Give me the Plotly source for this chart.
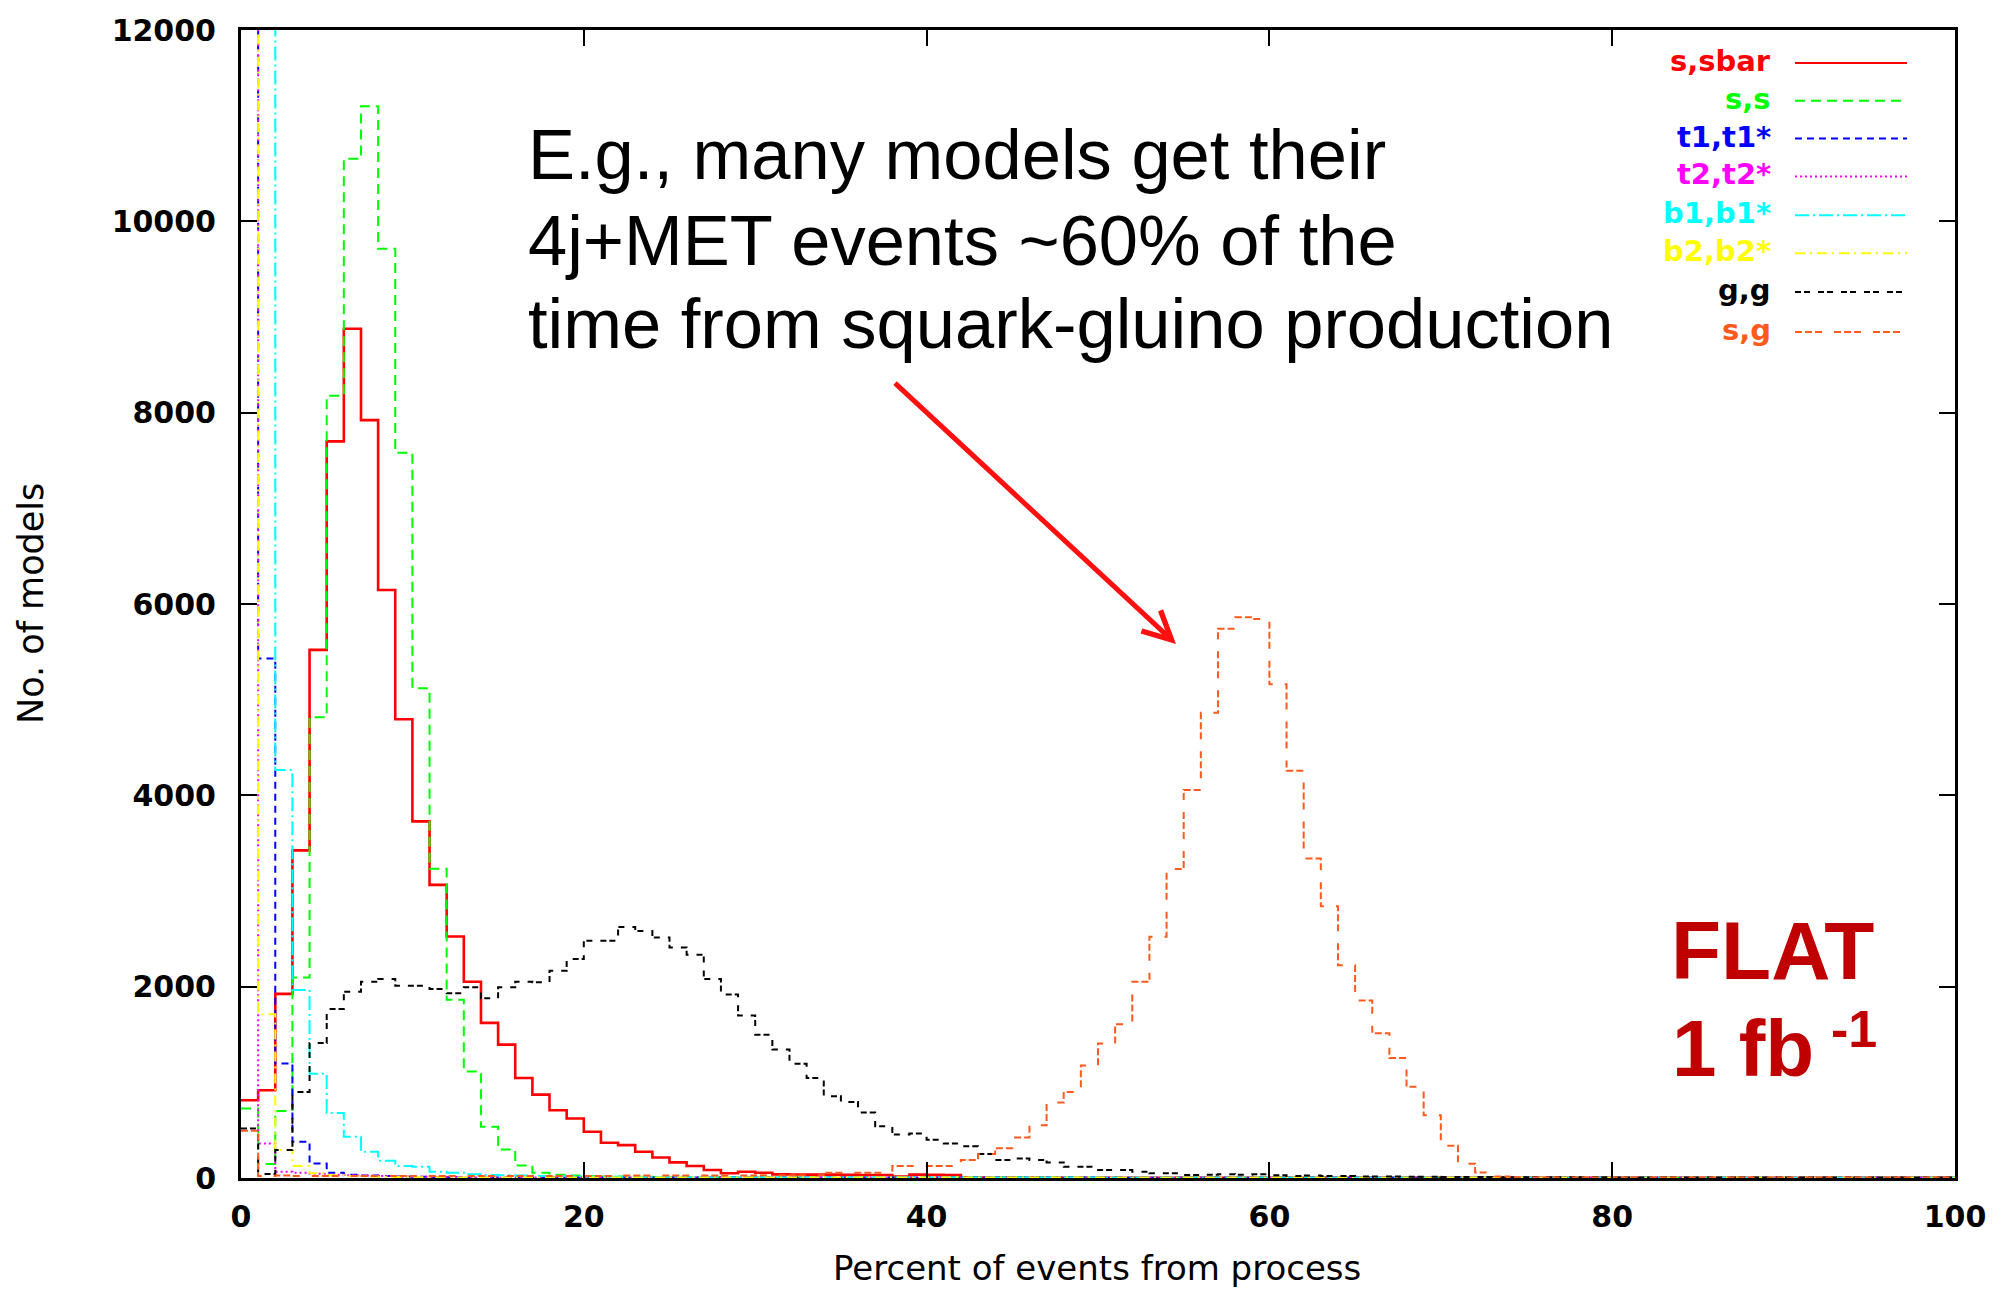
import plotly.graph_objects as go

# ---------------- data (1% bins, 0..100) ----------------
bin_edges = list(range(0, 101))

s_sbar = [812, 917, 1925, 3425, 5520, 7700, 8877, 7922, 6146, 4795,
          3728, 3064, 2525, 2052, 1621, 1394, 1045, 872, 708, 622,
          483, 368, 344, 274, 215, 163, 125, 83, 50, 66,
          55, 38, 36, 35, 35, 33, 32, 32, 15, 35,
          33, 30, 8, 6, 5, 4, 4, 3, 3, 3] + [2] * 50

s_s = [726, 146, 701, 2096, 4817, 8177, 10653, 11202, 9713, 7580,
       5119, 3232, 1862, 1114, 535, 299, 130, 55, 35, 25,
       20, 15, 15, 12, 10, 10, 8, 8, 6, 6] + [5] * 20 + [3] * 50

t1_t1 = [30000, 5430, 1197, 380, 152, 55, 35, 25, 20, 15,
         12, 10, 8, 6, 5] + [4] * 35 + [2] * 50

t2_t2 = [25000, 361, 66, 55, 45, 35, 30, 25, 20, 15,
         12, 10, 8, 6, 5] + [4] * 35 + [2] * 50

b1_b1 = [20000, 16000, 4265, 1965, 1090, 680, 430, 274, 180, 125,
         118, 66, 55, 38, 32, 28, 25, 22, 20, 18,
         15, 14, 12, 10, 10, 8, 8, 6, 6, 5] + [4] * 20 + [2] * 50

b2_b2 = [35000, 1712, 292, 125, 49, 30, 20, 15, 12, 10,
         8, 8, 6, 6, 5] + [4] * 35 + [3] * 50

g_g = [517, 42, 292, 900, 1410, 1767, 1948, 2052, 2080, 2010,
       2010, 1975, 1930, 1993, 1878, 1993, 2052, 2045, 2167, 2288,
       2479, 2479, 2625, 2583, 2514, 2410, 2333, 2080, 1917, 1698,
       1497, 1344, 1194, 1045, 854, 795, 684, 542, 455, 465,
       400, 361, 333, 250, 188, 205, 188, 163, 118, 118,
       83, 83, 66, 49, 49, 31, 35, 40, 35, 40,
       30, 20, 25, 20, 20, 15, 15, 15, 12, 12,
       10, 10, 10, 8, 8, 8, 8, 8, 8, 8,
       6, 6, 6, 6, 6, 6, 6, 6, 6, 6,
       5, 5, 5, 5, 5, 5, 5, 5, 5, 5]

s_g = [493, 20, 25, 20, 20, 20, 20, 20, 20, 20,
       20, 20, 20, 20, 20, 20, 20, 20, 20, 20,
       20, 20, 25, 25, 25, 25, 25, 25, 25, 25,
       30, 30, 30, 30, 56, 56, 56, 56, 125, 125,
       125, 125, 187, 250, 312, 424, 552, 788, 899, 1177,
       1406, 1606, 2052, 2521, 3229, 4056, 4864, 5740, 5862, 5844,
       5160, 4256, 3339, 2841, 2223, 1856, 1513, 1254, 955, 656,
       337, 150, 58, 15, 8] + [6] * 25

series_names = ["s,sbar", "s,s", "t1,t1*", "t2,t2*", "b1,b1*", "b2,b2*", "g,g", "s,g"]
series_values = [s_sbar, s_s, t1_t1, t2_t2, b1_b1, b2_b2, g_g, s_g]

x_ticks = [0, 20, 40, 60, 80, 100]
y_ticks = [0, 2000, 4000, 6000, 8000, 10000, 12000]

# ---------------- styles ----------------
colors = ["#ff0000", "#00ff00", "#0000ff", "#ff00ff", "#00ffff", "#ffff00", "#000000", "#ff5a1e"]
dashes = ["solid", "10px,6px", "7px,5px", "2px,3px", "14px,4px,2px,4px",
          "10px,5px,2px,5px", "6px,3px,6px,8px", "7px,3px,7px,3px,7px,12px"]
widths = [2.6, 2, 2, 2, 2, 2, 2, 2]

W, H = 2007, 1293
L, R, T, B = 241, 1955, 26, 1178


def px(fx):
    return (fx - L) / (R - L)


def py(fy):
    return (B - fy) / (B - T)


fig = go.Figure()
for name, vals, c, d, w in zip(series_names, series_values, colors, dashes, widths):
    fig.add_trace(go.Scatter(
        x=bin_edges, y=vals + [vals[-1]], mode="lines", name=name,
        line=dict(shape="hv", color=c, dash=d, width=w),
        showlegend=False, hoverinfo="skip"))

annotations = []
shapes = []

# legend (text on the left, sample line on the right)
legend_rows = [59, 97, 135, 173, 212, 250, 289, 329]
for name, c, d, fy in zip(series_names, colors, dashes, legend_rows):
    annotations.append(dict(
        x=px(1773), y=py(fy - 2), xref="paper", yref="paper", text=name,
        showarrow=False, xanchor="right", yanchor="middle",
        font=dict(family="DejaVu Sans", size=29, color=c, weight="bold")))
    shapes.append(dict(
        type="line", xref="paper", yref="paper",
        x0=px(1795), x1=px(1907), y0=py(fy), y1=py(fy),
        line=dict(color=c, width=2, dash=d)))

# main comment
lines = ["E.g., many models get their",
         "4j+MET events ~60% of the",
         "time from squark-gluino production"]
for txt, fy in zip(lines, [151, 237, 321]):
    annotations.append(dict(
        x=px(526), y=py(fy), xref="paper", yref="paper", text=txt,
        showarrow=False, xanchor="left", yanchor="middle",
        font=dict(family="Liberation Sans, Arial", size=70.5, color="black")))

# red arrow
annotations.append(dict(
    x=54.55, y=5583, ax=38.07, ay=8323, xref="x", yref="y", axref="x", ayref="y",
    text="", showarrow=True, arrowhead=5, arrowsize=1.1, arrowwidth=5,
    arrowcolor="#ff1010", standoff=0, startstandoff=0))

# FLAT / 1 fb^-1
annotations.append(dict(
    x=px(1772), y=py(950), xref="paper", yref="paper", text="FLAT",
    showarrow=False, xanchor="center", yanchor="middle",
    font=dict(family="Liberation Sans, Arial", size=82, color="#c00000", weight="bold")))
annotations.append(dict(
    x=px(1670), y=py(1048), xref="paper", yref="paper", text="1 fb",
    showarrow=False, xanchor="left", yanchor="middle",
    font=dict(family="Liberation Sans, Arial", size=80, color="#c00000", weight="bold")))
annotations.append(dict(
    x=px(1829), y=py(1028), xref="paper", yref="paper", text="-1",
    showarrow=False, xanchor="left", yanchor="middle",
    font=dict(family="Liberation Sans, Arial", size=52, color="#c00000", weight="bold")))

# axis titles
annotations.append(dict(
    x=px(31), y=py(602), xref="paper", yref="paper", text="No. of models",
    showarrow=False, xanchor="center", yanchor="middle", textangle=-90,
    font=dict(family="DejaVu Sans", size=35, color="black")))
annotations.append(dict(
    x=px(1097), y=py(1268), xref="paper", yref="paper",
    text="Percent of events from process",
    showarrow=False, xanchor="center", yanchor="middle",
    font=dict(family="DejaVu Sans", size=34, color="black")))

tickfont = dict(family="DejaVu Sans", size=30, color="black", weight="bold")
axis_common = dict(
    showgrid=False, zeroline=False, showline=True, linecolor="black", linewidth=3,
    mirror="ticks", ticks="inside", ticklen=16, tickwidth=2, tickcolor="black",
    tickfont=tickfont)

fig.update_layout(
    width=W, height=H,
    margin=dict(l=L, r=W - R, t=T, b=H - B),
    paper_bgcolor="white", plot_bgcolor="white",
    xaxis=dict(range=[0, 100], tickmode="array", tickvals=x_ticks,
               ticktext=[str(v) for v in x_ticks], ticklabelstandoff=10, **axis_common),
    yaxis=dict(range=[0, 12000], tickmode="array", tickvals=y_ticks,
               ticktext=[str(v) for v in y_ticks], ticklabelstandoff=16, **axis_common),
    annotations=annotations, shapes=shapes,
    showlegend=False)

fig.write_html("out.html")
